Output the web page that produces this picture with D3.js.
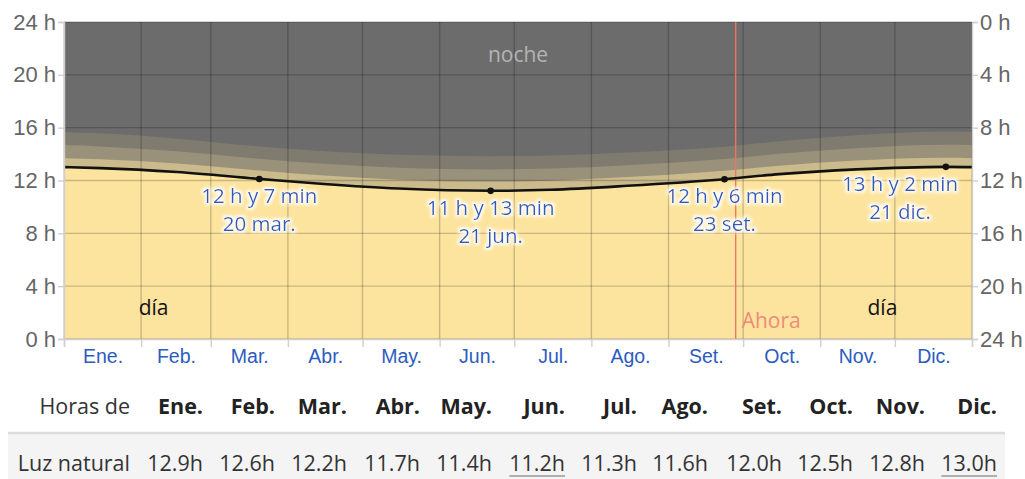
<!DOCTYPE html>
<html>
<head>
<meta charset="utf-8">
<script src="https://cdn.jsdelivr.net/npm/d3@7"></script>
<style>
  html, body { margin: 0; padding: 0; background: #fff; }
  svg { display: block; font-family: "Open Sans", "Noto Sans", sans-serif; }
</style>
</head>
<body>
<svg id="chart" width="1025" height="479"></svg>
<script>
// Month names (axis + table)
const monthLabels = ["Ene.", "Feb.", "Mar.", "Abr.", "May.", "Jun.", "Jul.", "Ago.", "Set.", "Oct.", "Nov.", "Dic."];
const monthStarts = [0, 31, 59, 90, 120, 151, 181, 212, 243, 273, 304, 334, 365];

// Sampled days of the year (0 = 1 Jan) and hours of light / twilight
const sampleDays = [0, 14.5, 45.5, 78.5, 104.5, 134.5, 171.5, 195.5, 226.5, 265.5, 287.5, 318.5, 354.5, 365];
const daylightHours = [13.01, 12.94, 12.64, 12.12, 11.73, 11.39, 11.22, 11.30, 11.60, 12.10, 12.48, 12.84, 13.03, 13.01];
const civilTwilight = [0.68, 0.67, 0.65, 0.63, 0.64, 0.67, 0.70, 0.69, 0.66, 0.63, 0.64, 0.67, 0.69, 0.68];
const nauticalTwilight = [0.99, 0.97, 0.92, 0.89, 0.89, 0.91, 0.92, 0.92, 0.90, 0.89, 0.90, 0.94, 0.99, 0.99];
const astronomicalTwilight = [1.00, 0.99, 0.96, 0.94, 0.95, 0.98, 1.00, 0.99, 0.96, 0.94, 0.95, 0.98, 1.00, 1.00];

// Solstices and equinoxes
const keyDays = [78.5, 171.5, 265.5, 354.5];
const keyHours = [12 + 7 / 60, 11 + 13 / 60, 12 + 6 / 60, 13 + 2 / 60];
const keyDurations = ["12 h y 7 min", "11 h y 13 min", "12 h y 6 min", "13 h y 2 min"];
const keyDates = ["20 mar.", "21 jun.", "23 set.", "21 dic."];

// Today marker
const nowDay = 270;

// Monthly average daylight (table)
const monthlyDaylight = [12.9, 12.6, 12.2, 11.7, 11.4, 11.2, 11.3, 11.6, 12.0, 12.5, 12.8, 13.0];

const hourTicks = [0, 4, 8, 12, 16, 20, 24];

const svg = d3.select("#chart");
const plotLeft = 64, plotRight = 972, plotTop = 22, plotBottom = 339;

const x = d3.scaleLinear().domain([0, 365]).range([plotLeft, plotRight]);
const y = d3.scaleLinear().domain([0, 24]).range([plotBottom, plotTop]);
const yRight = d3.scaleLinear().domain([0, 24]).range([plotTop, plotBottom]);

const rows = sampleDays.map((d, i) => {
  const day = daylightHours[i];
  const c = day + civilTwilight[i];
  const n = c + nauticalTwilight[i];
  const a = n + astronomicalTwilight[i];
  return { d, day, c, n, a };
});

const curve = d3.curveMonotoneX;
const band = (lo, hi) => d3.area().curve(curve).x(r => x(r.d)).y0(lo).y1(hi);

// Night background
svg.append("rect").attr("x", plotLeft).attr("y", plotTop)
  .attr("width", plotRight - plotLeft).attr("height", plotBottom - plotTop).attr("fill", "#6c6c6c");

svg.append("path").datum(rows).attr("fill", "#7f7b6e")
  .attr("d", band(() => y(0), r => y(r.a)));
svg.append("path").datum(rows).attr("fill", "#9a917a")
  .attr("d", band(() => y(0), r => y(r.n)));
svg.append("path").datum(rows).attr("fill", "#cbbb8c")
  .attr("d", band(() => y(0), r => y(r.c)));
svg.append("path").datum(rows).attr("fill", "#fce49f")
  .attr("d", band(() => y(0), r => y(r.day)));

// Grid
const grid = svg.append("g").attr("stroke", "rgba(0,0,0,0.2)").attr("stroke-width", 1.4);
grid.selectAll("line.h").data(hourTicks).join("line")
  .attr("x1", plotLeft).attr("x2", plotRight)
  .attr("y1", d => y(d)).attr("y2", d => y(d));
grid.selectAll("line.v").data(monthStarts).join("line")
  .attr("x1", d => x(d)).attr("x2", d => x(d))
  .attr("y1", plotTop).attr("y2", plotBottom);

// Region labels
svg.append("text").attr("x", x(182.5)).attr("y", 62).attr("text-anchor", "middle")
  .attr("font-size", 21).attr("fill", "#b4b4b4").text("noche");
svg.selectAll("text.dia").data([36, 329]).join("text")
  .attr("x", d => x(d)).attr("y", 315).attr("text-anchor", "middle")
  .attr("font-size", 21).attr("fill", "#111").text("día");

// Today line
svg.append("line").attr("x1", x(nowDay)).attr("x2", x(nowDay))
  .attr("y1", plotTop).attr("y2", plotBottom).attr("stroke", "#ee7462").attr("stroke-width", 1.4);
svg.append("text").attr("x", x(nowDay) + 6).attr("y", 328)
  .attr("font-size", 21).attr("fill", "#f08a78").text("Ahora");

// Daylight line and markers
svg.append("path").datum(rows).attr("fill", "none").attr("stroke", "#111").attr("stroke-width", 2.6)
  .attr("d", d3.line().curve(curve).x(r => x(r.d)).y(r => y(r.day)));
svg.selectAll("circle.key").data(keyDays).join("circle")
  .attr("cx", d => x(d)).attr("cy", (d, i) => y(keyHours[i])).attr("r", 3.3).attr("fill", "#111");

// Annotation halo filter
const defs = svg.append("defs");
const f = defs.append("filter").attr("id", "halo").attr("x", "-20%").attr("y", "-40%").attr("width", "140%").attr("height", "180%");
f.append("feMorphology").attr("in", "SourceAlpha").attr("operator", "dilate").attr("radius", 1.6).attr("result", "d");
f.append("feGaussianBlur").attr("in", "d").attr("stdDeviation", 1.4).attr("result", "b");
f.append("feFlood").attr("flood-color", "#ffffff").attr("flood-opacity", 0.85).attr("result", "w");
f.append("feComposite").attr("in", "w").attr("in2", "b").attr("operator", "in").attr("result", "g");
const fm = f.append("feMerge");
fm.append("feMergeNode").attr("in", "g");
fm.append("feMergeNode").attr("in", "SourceGraphic");

// Two-line labels at solstices / equinoxes
const ann = svg.append("g").attr("font-size", 20.5).attr("fill", "#2c5cc0").attr("text-anchor", "middle");
keyDays.forEach((d, i) => {
  const cy = y(keyHours[i]);
  const g = ann.append("g").attr("filter", "url(#halo)");
  const t1 = g.append("text").attr("x", x(d)).attr("y", cy + 24).text(keyDurations[i]);
  const t2 = g.append("text").attr("x", x(d)).attr("y", cy + 52).text(keyDates[i]);
  const w1 = t1.node().getComputedTextLength();
  const limit = plotRight - 14;
  if (x(d) + w1 / 2 > limit) {
    const cx = limit - w1 / 2;
    t1.attr("x", cx); t2.attr("x", cx);
  }
});

// Axes
const fmtH = d => d + " h";
const axL = svg.append("g").attr("transform", `translate(${plotLeft},0)`)
  .call(d3.axisLeft(y).tickValues(hourTicks).tickFormat(fmtH).tickSize(6).tickPadding(2));
const axR = svg.append("g").attr("transform", `translate(${plotRight},0)`)
  .call(d3.axisRight(yRight).tickValues(hourTicks).tickFormat(fmtH).tickSize(6).tickPadding(2));
const axB = svg.append("g").attr("transform", `translate(0,${plotBottom})`)
  .call(d3.axisBottom(x).tickValues(monthStarts).tickFormat("").tickSize(8));
const monthMids = monthStarts.slice(0, 12).map((s, i) => (s + monthStarts[i + 1]) / 2);
const axM = svg.append("g").attr("transform", `translate(0,${plotBottom})`)
  .call(d3.axisBottom(x).tickValues(monthMids).tickFormat((d, i) => monthLabels[i]).tickSize(0).tickPadding(10));
axM.select(".domain").remove();
[axL, axR, axB].forEach(a => {
  a.select(".domain").attr("stroke", "#cfcfcf").attr("stroke-width", 1.4);
  a.selectAll(".tick line").attr("stroke", "#cfcfcf").attr("stroke-width", 1.4);
});
[axL, axR].forEach(a => a.selectAll(".tick text").attr("font-size", 22).attr("fill", "#666").attr("font-family", null));
axM.selectAll(".tick text").attr("font-size", 19.5).attr("fill", "#2c5cc0").attr("font-family", null);

// Table
const colRight = [203, 275, 347, 420, 492, 565, 637, 708, 782, 853, 925, 997];
svg.append("rect").attr("x", 8).attr("y", 433).attr("width", 997).attr("height", 46).attr("fill", "#f4f4f4");
svg.append("line").attr("x1", 8).attr("x2", 1005).attr("y1", 433).attr("y2", 433)
  .attr("stroke", "#dcdcdc").attr("stroke-width", 2.5);
svg.append("text").attr("x", 130).attr("y", 414).attr("text-anchor", "end")
  .attr("font-size", 21.5).attr("fill", "#333").text("Horas de");
svg.append("text").attr("x", 130).attr("y", 471).attr("text-anchor", "end")
  .attr("font-size", 21.5).attr("fill", "#333").text("Luz natural");
svg.selectAll("text.mh").data(monthLabels).join("text")
  .attr("x", (d, i) => colRight[i]).attr("y", 414).attr("text-anchor", "end")
  .attr("font-size", 21.5).attr("font-weight", "bold").attr("fill", "#222").text(d => d);
const minV = d3.min(monthlyDaylight), maxV = d3.max(monthlyDaylight);
const vals = svg.selectAll("text.mv").data(monthlyDaylight).join("text")
  .attr("x", (d, i) => colRight[i]).attr("y", 471).attr("text-anchor", "end")
  .attr("font-size", 21.5).attr("fill", "#333").text(d => d.toFixed(1) + "h");
vals.each(function (d) {
  if (d === minV || d === maxV) {
    const b = this.getBBox();
    svg.append("line").attr("x1", b.x).attr("x2", b.x + b.width)
      .attr("y1", 476).attr("y2", 476).attr("stroke", "#999").attr("stroke-width", 1.4);
  }
});
</script>
</body>
</html>
